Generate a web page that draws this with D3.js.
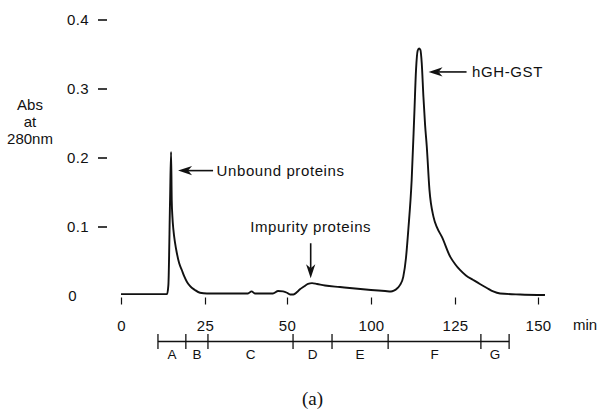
<!DOCTYPE html>
<html>
<head>
<meta charset="utf-8">
<script src="https://cdn.jsdelivr.net/npm/d3@7"></script>
<style>
  html, body { margin: 0; background: #fff; }
  svg { display: block; }
  text { font-family: "Liberation Sans", Arial, sans-serif; fill: #111; }
</style>
</head>
<body>
<svg id="chart" width="603" height="413"></svg>
<script>
// Elution profile: time (min) vs absorbance at 280 nm
const timeMin = [
  0, 13.7, 14.1, 14.6, 14.9, 15.1, 15.3, 15.6, 16.1, 16.6, 17.3, 18.1, 18.8, 19.6,
  20.5, 22.0, 23.5, 25.6, 38.1, 39.2, 40.2, 45.7, 47.3, 48.8, 50.0, 51.8, 53.8,
  56.0, 57.7, 60.1, 62.5, 64.9, 67.9, 72.6, 81.5, 90.5, 100, 104.2, 105.95, 106.8,
  107.6, 108.6, 109.6, 110.4, 111.1, 112.1, 112.9, 113.4, 113.9, 114.3, 114.7,
  115.1, 115.6, 116.1, 116.6, 117.4, 118.6, 119.7, 121.1, 123.6, 125, 126.5, 128.3,
  130.5, 132.5, 134.6, 136.5, 138.6, 144.6, 152.1
];
const absorbance = [
  0.002, 0.002, 0.015, 0.138, 0.208, 0.138, 0.114, 0.095, 0.076, 0.062, 0.047, 0.037,
  0.028, 0.020, 0.014, 0.008, 0.004, 0.003, 0.003, 0.006, 0.003, 0.003, 0.0065,
  0.006, 0.004, 0.0015, 0.0015, 0.005, 0.009, 0.013, 0.0167, 0.018, 0.0167, 0.0145,
  0.0123, 0.0101, 0.008, 0.0065, 0.0058, 0.007, 0.0094, 0.015, 0.027, 0.054, 0.095,
  0.167, 0.264, 0.327, 0.355, 0.358, 0.356, 0.337, 0.288, 0.247, 0.216, 0.153,
  0.114, 0.098, 0.085, 0.056, 0.0457, 0.037, 0.029, 0.0225, 0.0167, 0.0109, 0.0058,
  0.0029, 0.0014, 0.0007
];

// Axis ticks as printed on the time axis
const xTickValues = [0, 25, 50, 100, 125, 150];
const xTickLabels = ["0", "25", "50", "100", "125", "150"];
const yTickValues = [0, 0.1, 0.2, 0.3, 0.4];
const yTickLabels = ["0", "0.1", "0.2", "0.3", "0.4"];

// Collected fractions and their boundaries (min)
const fractionNames = ["A", "B", "C", "D", "E", "F", "G"];
const fractionBounds = [11.0, 19.3, 25.9, 53.6, 76.8, 105.1, 132.8, 141.3];

// Peak annotations: label and the elution time of the marked peak
const peakLabels = ["Unbound proteins", "Impurity proteins", "hGH-GST"];
const peakTimes = [14.9, 64.1, 114.3];

const svg = d3.select("#chart");
svg.append("rect").attr("width", 603).attr("height", 413).attr("fill", "#fff");

const x = d3.scaleLinear().domain(xTickValues).range([121, 205, 287, 371, 455, 538]);
const y = d3.scaleLinear().domain([0, 0.4]).range([295.5, 19.5]);

// Y axis: short dashes, no axis line, no dash at zero
const gy = svg.append("g")
  .attr("transform", "translate(107,0)")
  .call(d3.axisLeft(y).tickValues(yTickValues)
    .tickFormat((d, i) => yTickLabels[i]).tickSize(9).tickPadding(9));
gy.attr("font-size", null).attr("font-family", null);
gy.select(".domain").remove();
gy.selectAll(".tick line").attr("stroke", "#111").attr("stroke-width", 1.6);
gy.selectAll(".tick text").attr("font-size", 15).attr("fill", "#111").attr("letter-spacing", 0.4);
const zeroTick = gy.selectAll(".tick").filter(d => d === 0);
zeroTick.select("line").remove();
zeroTick.select("text").attr("x", -30);

// X axis: small tick marks below the trace
const gx = svg.append("g")
  .attr("transform", "translate(0,297.5)")
  .call(d3.axisBottom(x).tickValues(xTickValues)
    .tickFormat((d, i) => xTickLabels[i]).tickSize(7).tickPadding(16));
gx.attr("font-size", null).attr("font-family", null);
gx.select(".domain").remove();
gx.selectAll(".tick line").attr("stroke", "#111").attr("stroke-width", 1.2);
gx.selectAll(".tick text").attr("font-size", 15).attr("fill", "#111").attr("letter-spacing", 0.3);

svg.append("text").attr("x", 573).attr("y", 325).attr("dy", "0.35em")
  .attr("font-size", 15).text("min");

// Y axis title
const yTitle = ["Abs", "at", "280nm"];
svg.append("g").selectAll("text").data(yTitle).join("text")
  .attr("x", 30).attr("y", (d, i) => [105, 122, 138.5][i]).attr("dy", "0.35em")
  .attr("text-anchor", "middle").attr("font-size", 15).text(d => d);

// Elution trace
const points = timeMin.map((t, i) => [t, absorbance[i]]);
svg.append("path").datum(points)
  .attr("fill", "none").attr("stroke", "#111").attr("stroke-width", 1.9)
  .attr("stroke-linejoin", "round")
  .attr("d", d3.line().x(d => x(d[0])).y(d => y(d[1])).curve(d3.curveMonotoneX));

// Fraction bar
const barY = 341.5;
const gf = svg.append("g");
gf.append("line")
  .attr("x1", x(fractionBounds[0])).attr("x2", x(fractionBounds[fractionBounds.length - 1]))
  .attr("y1", barY).attr("y2", barY).attr("stroke", "#111").attr("stroke-width", 1.4);
gf.selectAll(".bound").data(fractionBounds).join("line")
  .attr("x1", d => x(d)).attr("x2", d => x(d))
  .attr("y1", barY - 7.5).attr("y2", barY + 7.5)
  .attr("stroke", "#111").attr("stroke-width", 1.3);
gf.selectAll(".fname").data(fractionNames).join("text")
  .attr("x", (d, i) => (x(fractionBounds[i]) + x(fractionBounds[i + 1])) / 2)
  .attr("y", 354.5).attr("dy", "0.35em").attr("text-anchor", "middle")
  .attr("font-size", 13.5).text(d => d);

// Arrow with a notched, filled head
function arrow(sx, sy, tx, ty) {
  const len = Math.hypot(tx - sx, ty - sy);
  const ux = (tx - sx) / len, uy = (ty - sy) / len;
  const nx = -uy, ny = ux;
  const L = 14, w = 4.6, notch = 4;
  svg.append("line")
    .attr("x1", sx).attr("y1", sy)
    .attr("x2", tx - ux * (L - notch)).attr("y2", ty - uy * (L - notch))
    .attr("stroke", "#111").attr("stroke-width", 1.6);
  const p = [
    [tx, ty],
    [tx - ux * L + nx * w, ty - uy * L + ny * w],
    [tx - ux * (L - notch), ty - uy * (L - notch)],
    [tx - ux * L - nx * w, ty - uy * L - ny * w]
  ];
  svg.append("path").attr("d", "M" + p.join("L") + "Z").attr("fill", "#111");
}

// Unbound proteins: horizontal arrow pointing left at the first peak
{
  const tx = x(peakTimes[0]) + 7, ty = y(0.181);
  arrow(tx + 35, ty, tx, ty);
  svg.append("text").attr("x", tx + 38.5).attr("y", ty).attr("dy", "0.35em")
    .attr("font-size", 15).attr("letter-spacing", 0.6).text(peakLabels[0]);
}
// Impurity proteins: vertical arrow pointing down
{
  const tx = x(peakTimes[1]), ty = y(0.025);
  arrow(tx, ty - 35, tx, ty);
  svg.append("text").attr("x", tx).attr("y", ty - 51.5).attr("dy", "0.35em")
    .attr("text-anchor", "middle").attr("font-size", 15).attr("letter-spacing", 0.6)
    .text(peakLabels[1]);
}
// hGH-GST: horizontal arrow pointing left at the main peak
{
  const tx = x(peakTimes[2]) + 9.5, ty = y(0.324);
  arrow(tx + 38, ty, tx, ty);
  svg.append("text").attr("x", tx + 43.5).attr("y", ty).attr("dy", "0.35em")
    .attr("font-size", 15).attr("letter-spacing", 0.6).text(peakLabels[2]);
}

// Panel label
svg.append("text").attr("x", 312.5).attr("y", 398.5).attr("dy", "0.35em")
  .attr("text-anchor", "middle").attr("font-size", 19)
  .style("font-family", "'Liberation Serif', 'Times New Roman', serif").text("(a)");
</script>
</body>
</html>
